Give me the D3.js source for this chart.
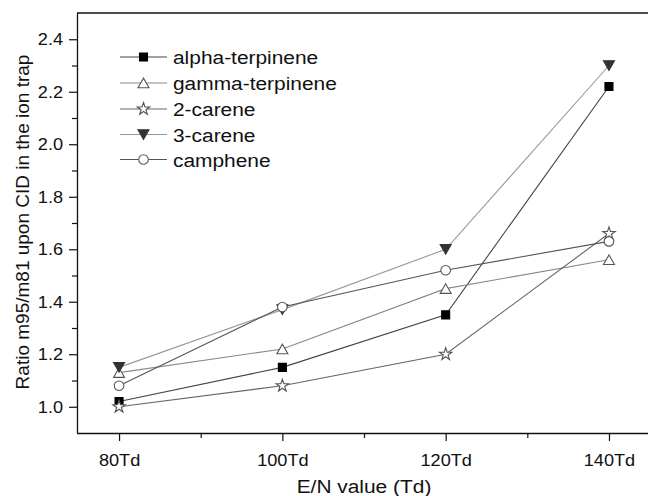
<!DOCTYPE html>
<html>
<head>
<meta charset="utf-8">
<script src="https://cdn.jsdelivr.net/npm/d3@7"></script>
<style>
  html, body { margin: 0; padding: 0; background: #fff; }
  svg { display: block; }
  text { font-family: "Liberation Sans", Arial, sans-serif; fill: #111; }
</style>
</head>
<body>
<svg id="chart" width="648" height="496"></svg>
<script>
// E/N values (Td) and the measured m95/m81 ratios per compound
const fieldValues = [80, 100, 120, 140];
const alphaTerpinene = [1.02, 1.15, 1.35, 2.22];
const gammaTerpinene = [1.13, 1.22, 1.45, 1.56];
const carene2 = [1.00, 1.08, 1.20, 1.66];
const carene3 = [1.15, 1.37, 1.60, 2.30];
const camphene = [1.08, 1.38, 1.52, 1.63];

const xMajorTicks = [80, 100, 120, 140];
const xMinorTicks = [90, 110, 130];
const yMajorTicks = [1.0, 1.2, 1.4, 1.6, 1.8, 2.0, 2.2, 2.4];
const yMinorTicks = [1.1, 1.3, 1.5, 1.7, 1.9, 2.1, 2.3];

const series = [
  { name: "alpha-terpinene", values: alphaTerpinene, symbol: d3.symbolSquare, size: 64, fill: "#000", stroke: "#000", line: "#444" },
  { name: "gamma-terpinene", values: gammaTerpinene, symbol: "triUp", size: 11, fill: "#fff", stroke: "#555", line: "#8a8a8a" },
  { name: "2-carene", values: carene2, symbol: d3.symbolStar, size: 48, fill: "#fff", stroke: "#555", line: "#666" },
  { name: "3-carene", values: carene3, symbol: "triDown", size: 11, fill: "#333", stroke: "#333", line: "#9a9a9a" },
  { name: "camphene", values: camphene, symbol: d3.symbolCircle, size: 72, fill: "#fff", stroke: "#555", line: "#555" }
];

const svg = d3.select("#chart");
const plotLeft = 77, plotTop = 13, plotBottom = 433, plotRight = 660;
const HS = 1.1; // horizontal stretch of the lettering

const x = d3.scaleLinear().domain([74.85, 146.25]).range([plotLeft, plotRight]);
const y = d3.scaleLinear().domain([0.9, 2.5]).range([plotBottom, plotTop]);

// Triangle markers of a given width
function triPath(w, down) {
  const h = w * 0.87;
  if (down) return `M${-w/2},${-h/2}L${w/2},${-h/2}L0,${h/2}Z`;
  return `M${-w/2},${h/2}L${w/2},${h/2}L0,${-h/2}Z`;
}
function markerPath(s) {
  if (s.symbol === "triUp") return triPath(s.size, false);
  if (s.symbol === "triDown") return triPath(s.size, true);
  return d3.symbol().type(s.symbol).size(s.size)();
}

// Frame line along the top
svg.append("line").attr("x1", plotLeft).attr("x2", 648).attr("y1", plotTop).attr("y2", plotTop)
  .attr("stroke", "#111").attr("stroke-width", 1.3);

// X axis
const xAxis = svg.append("g").attr("transform", `translate(0,${plotBottom})`)
  .call(d3.axisBottom(x).tickValues(xMajorTicks).tickSize(8).tickPadding(10).tickFormat(d => d + "Td"));
svg.append("g").attr("transform", `translate(0,${plotBottom})`)
  .call(d3.axisBottom(x).tickValues(xMinorTicks).tickSize(5).tickFormat(""))
  .call(g => g.select(".domain").remove());
xAxis.select(".domain").attr("d", `M${plotLeft},0.5H648`);

// Y axis
const yAxis = svg.append("g").attr("transform", `translate(${plotLeft},0)`)
  .call(d3.axisLeft(y).tickValues(yMajorTicks).tickSize(8).tickPadding(6).tickFormat(d3.format(".1f")));
svg.append("g").attr("transform", `translate(${plotLeft},0)`)
  .call(d3.axisLeft(y).tickValues(yMinorTicks).tickSize(5).tickFormat(""))
  .call(g => g.select(".domain").remove());
yAxis.select(".domain").attr("d", `M0.5,${plotTop}V${plotBottom}`);

svg.selectAll(".domain").attr("stroke", "#111").attr("stroke-width", 1.3);
svg.selectAll(".tick line").attr("stroke", "#111").attr("stroke-width", 1.2);
svg.selectAll(".tick text")
  .attr("font-size", 16.5)
  .attr("font-family", "'Liberation Sans', Arial, sans-serif")
  .attr("fill", "#111");
xAxis.selectAll(".tick text").attr("transform", `scale(${HS},1)`).attr("dy", "0.9em");
yAxis.selectAll(".tick text").each(function () {
  const t = d3.select(this);
  const xx = +t.attr("x");
  t.attr("x", xx / HS).attr("transform", `scale(${HS},1)`);
});

// Axis titles
svg.append("text")
  .attr("transform", `translate(364,493) scale(${HS},1)`)
  .attr("text-anchor", "middle")
  .attr("font-size", 19)
  .text("E/N value (Td)");
svg.append("text")
  .attr("transform", `translate(29,222) rotate(-90)`)
  .attr("text-anchor", "middle")
  .attr("font-size", 19)
  .text("Ratio m95/m81 upon CID in the ion trap");

// Data lines and markers
const line = d3.line().x(d => x(d[0])).y(d => y(d[1]));
series.forEach(s => {
  const pts = fieldValues.map((f, i) => [f, s.values[i]]);
  svg.append("path").datum(pts)
    .attr("d", line).attr("fill", "none")
    .attr("stroke", s.line).attr("stroke-width", 1.1);
  svg.append("g").selectAll("path").data(pts).join("path")
    .attr("transform", d => `translate(${x(d[0])},${y(d[1])})`)
    .attr("d", markerPath(s))
    .attr("fill", s.fill).attr("stroke", s.stroke).attr("stroke-width", 1.1);
});

// Legend
const legend = svg.append("g");
const rowY = [57, 83, 109, 134.5, 159.5];
series.forEach((s, i) => {
  const g = legend.append("g").attr("transform", `translate(0,${rowY[i]})`);
  g.append("line").attr("x1", 120).attr("x2", 167).attr("y1", 0).attr("y2", 0)
    .attr("stroke", s.line).attr("stroke-width", 1.1);
  g.append("path").attr("transform", "translate(143.5,0)")
    .attr("d", markerPath(s))
    .attr("fill", s.fill).attr("stroke", s.stroke).attr("stroke-width", 1.1);
  g.append("text")
    .attr("transform", `translate(173,7) scale(${HS},1)`)
    .attr("font-size", 19)
    .text(s.name);
});
</script>
</body>
</html>
